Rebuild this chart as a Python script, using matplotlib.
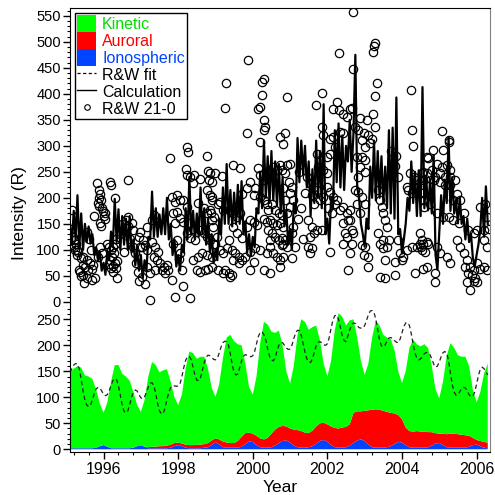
import numpy as np
import matplotlib.pyplot as plt
from matplotlib.patches import Patch
from matplotlib.lines import Line2D
from matplotlib.ticker import MultipleLocator, FormatStrFormatter

plt.rcParams['font.family'] = ['Liberation Sans', 'DejaVu Sans']

# Calculation, sampled every 0.05 yr from 1995.10 (one row per year)
calc_value = [
    150, 110, 175, 120, 205, 105, 170, 100, 150, 115, 145, 112, 130, 90, 105, 80, 95, 60, 75, 52,
    95, 80, 135, 110, 198, 115, 178, 100, 165, 110, 160, 100, 165, 95, 120, 70, 100, 60, 90, 45,
    80, 60, 125, 120, 212, 125, 180, 125, 168, 130, 180, 130, 200, 120, 150, 90, 120, 68, 90, 60,
    110, 95, 180, 120, 240, 130, 175, 120, 170, 125, 220, 130, 180, 110, 160, 95, 130, 75, 100, 80,
    160, 130, 220, 150, 265, 150, 215, 145, 210, 150, 225, 150, 232, 130, 155, 95, 130, 88, 125, 105,
    180, 170, 250, 180, 310, 200, 280, 190, 290, 195, 270, 185, 265, 170, 240, 145, 175, 110, 140, 100,
    190, 170, 315, 230, 310, 245, 300, 220, 270, 165, 255, 190, 310, 200, 290, 180, 380, 130, 160, 112,
    200, 180, 330, 230, 343, 220, 320, 215, 300, 270, 350, 250, 325, 475, 220, 200, 150, 130, 106, 160,
    140, 260, 200, 310, 195, 290, 200, 280, 190, 260, 180, 330, 170, 335, 160, 393, 130, 140, 93, 120,
    150, 200, 175, 270, 190, 250, 165, 253, 165, 413, 180, 240, 176, 230, 170, 282, 90, 62, 135, 205,
    150, 235, 190, 317, 175, 240, 170, 196, 151, 200, 150, 165, 120, 160, 115, 130, 85, 67, 90, 110,
    140, 200, 125, 222, 150,
]

# R&W fit, same sampling
fit_value = [
    148, 155, 162, 165, 164, 155, 135, 112, 95, 85, 82, 85, 95, 107, 116, 119, 118, 112, 106, 103,
    105, 112, 123, 132, 136, 134, 122, 103, 85, 73, 70, 74, 86, 100, 110, 114, 112, 105, 99, 97,
    101, 110, 120, 127, 128, 122, 107, 88, 74, 68, 69, 80, 96, 110, 119, 122, 122, 121, 122, 126,
    140, 157, 171, 178, 179, 172, 158, 142, 133, 132, 138, 152, 167, 177, 181, 180, 177, 173, 172, 175,
    185, 197, 205, 208, 207, 200, 183, 162, 148, 143, 145, 157, 170, 179, 182, 181, 179, 178, 180, 188,
    203, 217, 225, 226, 220, 210, 193, 179, 172, 170, 176, 189, 200, 205, 205, 200, 195, 192, 193, 200,
    213, 224, 229, 228, 219, 203, 187, 174, 168, 167, 174, 187, 199, 206, 207, 205, 201, 200, 203, 215,
    233, 249, 257, 258, 250, 234, 218, 209, 207, 218, 230, 240, 243, 242, 238, 234, 233, 233, 238, 248,
    259, 266, 267, 263, 250, 230, 210, 199, 197, 201, 209, 214, 215, 213, 209, 206, 205, 212, 224, 236,
    243, 244, 238, 222, 202, 185, 175, 172, 174, 179, 184, 186, 186, 182, 174, 164, 158, 160, 168, 178,
    186, 188, 185, 170, 146, 124, 110, 104, 105, 111, 117, 119, 118, 112, 105, 101, 102, 110, 125, 142,
    154, 158, 155, 149, 143,
]

# Components, sampled every 0.1 yr from 1995.1
ionospheric = [
    2, 2, 2, 2, 2, 2, 2, 3, 6, 8,
    5, 2, 2, 2, 2, 2, 2, 3, 6, 8,
    5, 2, 2, 2, 2, 2, 2, 3, 6, 8,
    6, 3, 2, 2, 2, 2, 3, 4, 8, 14,
    9, 4, 3, 3, 3, 3, 5, 10, 15, 14,
    8, 4, 3, 3, 4, 7, 12, 16, 17, 13,
    7, 4, 3, 3, 4, 6, 11, 16, 18, 15,
    8, 4, 3, 3, 4, 7, 12, 17, 19, 16,
    9, 4, 3, 3, 3, 4, 6, 10, 14, 13,
    8, 4, 3, 3, 3, 3, 4, 7, 11, 12,
    8, 4, 3, 3, 3, 3, 3, 5, 8, 9,
    6, 3, 2,
]
auroral = [
    0, 0, 0, 0, 0, 0, 0, 0, 0, 0,
    0, 0, 0, 0, 0, 0, 0, 0, 0, 0,
    0, 2, 3, 3, 4, 4, 5, 6, 6, 5,
    5, 6, 6, 6, 7, 7, 7, 8, 9, 7,
    10, 11, 10, 9, 9, 13, 19, 21, 17, 16,
    18, 17, 16, 19, 26, 31, 31, 29, 27, 27,
    31, 33, 32, 29, 27, 30, 33, 34, 33, 33,
    36, 37, 37, 39, 39, 41, 58, 56, 54, 58,
    66, 72, 74, 73, 71, 68, 64, 59, 52, 45,
    34, 31, 31, 32, 31, 31, 29, 26, 20, 18,
    22, 25, 27, 27, 26, 25, 24, 21, 14, 9,
    10, 11, 11,
]
kinetic = [
    146, 153, 158, 155, 140, 138, 133, 112, 82, 62,
    85, 128, 160, 160, 143, 138, 130, 107, 79, 64,
    90, 136, 163, 157, 142, 146, 147, 121, 88, 72,
    94, 146, 180, 177, 165, 169, 168, 143, 101, 80,
    106, 160, 202, 208, 196, 186, 176, 134, 88, 75,
    114, 184, 226, 218, 196, 186, 185, 155, 106, 86,
    122, 183, 215, 213, 199, 199, 194, 160, 114, 92,
    126, 189, 222, 213, 195, 200, 180, 142, 97, 69,
    90, 139, 170, 162, 146, 143, 142, 121, 84, 69,
    108, 160, 177, 167, 164, 168, 162, 127, 84, 68,
    100, 151, 174, 165, 152, 150, 151, 134, 93, 72,
    94, 131, 152,
]

# R&W 21-0 observations (year, intensity)
rw_1995 = [(1995.12, 140), (1995.14, 110), (1995.15, 176), (1995.17, 125), (1995.20, 106),
           (1995.22, 118), (1995.24, 99), (1995.26, 112), (1995.28, 100), (1995.28, 90),
           (1995.32, 95), (1995.33, 61), (1995.37, 58), (1995.40, 85), (1995.40, 50),
           (1995.44, 70), (1995.46, 87), (1995.46, 51), (1995.48, 37), (1995.50, 67),
           (1995.55, 80), (1995.55, 45), (1995.55, 135), (1995.59, 61), (1995.60, 120),
           (1995.64, 74), (1995.67, 100), (1995.68, 64), (1995.70, 42), (1995.73, 71),
           (1995.75, 165), (1995.77, 45), (1995.83, 228), (1995.85, 190), (1995.85, 87),
           (1995.87, 200), (1995.88, 216), (1995.88, 185), (1995.90, 208), (1995.90, 151),
           (1995.90, 106), (1995.92, 195), (1995.93, 145), (1995.95, 180), (1995.95, 93),
           (1995.98, 175)]
rw_1996 = [(1996.00, 165), (1996.03, 160), (1996.05, 170), (1996.10, 112), (1996.15, 106),
           (1996.15, 72), (1996.17, 230), (1996.17, 80), (1996.20, 224), (1996.20, 99),
           (1996.20, 66), (1996.22, 87), (1996.25, 106), (1996.25, 68), (1996.25, 57),
           (1996.27, 93), (1996.30, 112), (1996.30, 74), (1996.31, 199), (1996.33, 120),
           (1996.33, 66), (1996.35, 78), (1996.35, 45), (1996.45, 130), (1996.50, 150),
           (1996.55, 95), (1996.60, 157), (1996.66, 234), (1996.66, 163), (1996.66, 145),
           (1996.70, 120), (1996.75, 151), (1996.80, 139), (1996.80, 106), (1996.85, 93),
           (1996.88, 74), (1996.92, 57), (1996.95, 125), (1996.95, 40), (1996.98, 135),
           (1996.98, 106)]
rw_1997 = [(1997.02, 106), (1997.02, 48), (1997.07, 119), (1997.11, 109), (1997.11, 35),
           (1997.16, 100), (1997.16, 67), (1997.16, 144), (1997.25, 55), (1997.25, 3),
           (1997.29, 115), (1997.29, 157), (1997.34, 87), (1997.34, 167), (1997.38, 106),
           (1997.38, 61), (1997.43, 80), (1997.47, 96), (1997.52, 74), (1997.56, 61),
           (1997.61, 67), (1997.65, 55), (1997.69, 71), (1997.74, 61), (1997.77, 276),
           (1997.83, 202), (1997.83, 42), (1997.87, 170), (1997.87, 112), (1997.92, 192),
           (1997.92, 151), (1997.92, 10), (1997.96, 205), (1997.96, 173), (1997.96, 119)]
rw_1998 = [(1998.01, 83), (1998.05, 196), (1998.05, 161), (1998.05, 93), (1998.10, 61),
           (1998.14, 196), (1998.14, 154), (1998.14, 30), (1998.20, 256), (1998.23, 298),
           (1998.23, 183), (1998.23, 132), (1998.25, 244), (1998.26, 288), (1998.32, 240),
           (1998.32, 151), (1998.32, 122), (1998.32, 7), (1998.41, 229), (1998.41, 141),
           (1998.41, 80), (1998.43, 243), (1998.45, 119), (1998.50, 61), (1998.54, 190),
           (1998.54, 87), (1998.59, 237), (1998.59, 138), (1998.59, 58), (1998.63, 93),
           (1998.68, 180), (1998.68, 132), (1998.72, 61), (1998.77, 215), (1998.77, 170),
           (1998.77, 125), (1998.77, 90), (1998.78, 280), (1998.80, 252), (1998.81, 64),
           (1998.82, 234), (1998.86, 248), (1998.86, 176), (1998.86, 119), (1998.86, 205),
           (1998.88, 170), (1998.90, 231), (1998.90, 202), (1998.91, 196), (1998.90, 157),
           (1998.90, 87), (1998.90, 67), (1998.94, 144), (1998.95, 164), (1998.95, 112),
           (1998.99, 112)]
rw_1999 = [(1999.00, 247), (1999.03, 125), (1999.08, 189), (1999.08, 61), (1999.12, 192),
           (1999.12, 100), (1999.17, 242), (1999.21, 176), (1999.21, 93), (1999.21, 55),
           (1999.26, 372), (1999.26, 61), (1999.28, 421), (1999.30, 103), (1999.35, 119),
           (1999.35, 55), (1999.39, 176), (1999.39, 48), (1999.44, 100), (1999.44, 51),
           (1999.48, 263), (1999.48, 170), (1999.48, 144), (1999.48, 80), (1999.53, 93),
           (1999.57, 163), (1999.57, 132), (1999.62, 87), (1999.62, 74), (1999.66, 258),
           (1999.66, 170), (1999.70, 208), (1999.70, 122), (1999.70, 80), (1999.79, 87),
           (1999.84, 324), (1999.84, 218), (1999.84, 144), (1999.88, 466), (1999.93, 231),
           (1999.93, 157), (1999.93, 96), (1999.93, 61)]
rw_2000 = [(2000.02, 205), (2000.02, 154), (2000.02, 77), (2000.06, 218), (2000.06, 103),
           (2000.11, 147), (2000.15, 370), (2000.15, 257), (2000.20, 375), (2000.20, 308),
           (2000.20, 244), (2000.20, 202), (2000.20, 100), (2000.24, 423), (2000.24, 398),
           (2000.29, 428), (2000.29, 349), (2000.29, 331), (2000.29, 234), (2000.29, 196),
           (2000.29, 160), (2000.29, 61), (2000.33, 336), (2000.37, 240), (2000.37, 189),
           (2000.37, 154), (2000.37, 93), (2000.42, 176), (2000.42, 138), (2000.46, 157),
           (2000.46, 119), (2000.46, 106), (2000.46, 55), (2000.51, 247), (2000.51, 189),
           (2000.51, 132), (2000.55, 260), (2000.55, 151), (2000.55, 93), (2000.60, 176),
           (2000.60, 125), (2000.64, 253), (2000.64, 147), (2000.64, 87), (2000.69, 170),
           (2000.69, 119), (2000.73, 317), (2000.73, 263), (2000.73, 151), (2000.73, 80),
           (2000.73, 67), (2000.78, 167), (2000.78, 122), (2000.78, 253), (2000.78, 109),
           (2000.80, 303), (2000.82, 144), (2000.82, 112), (2000.82, 87), (2000.82, 218),
           (2000.87, 324), (2000.87, 247), (2000.87, 196), (2000.87, 119), (2000.91, 263),
           (2000.91, 170), (2000.91, 106), (2000.93, 394), (2000.96, 231)]
rw_2001 = [(2001.00, 266), (2001.00, 209), (2001.00, 183), (2001.05, 221), (2001.05, 132),
           (2001.05, 84), (2001.09, 196), (2001.09, 144), (2001.13, 106), (2001.20, 160),
           (2001.25, 250), (2001.30, 180), (2001.35, 120), (2001.40, 210), (2001.45, 240),
           (2001.49, 157), (2001.49, 106), (2001.54, 228), (2001.54, 125), (2001.54, 93),
           (2001.58, 205), (2001.58, 144), (2001.58, 103), (2001.63, 221), (2001.63, 189),
           (2001.63, 132), (2001.70, 378), (2001.72, 285), (2001.72, 215), (2001.72, 138),
           (2001.76, 260), (2001.80, 273), (2001.80, 196), (2001.85, 402), (2001.85, 336),
           (2001.85, 138), (2001.89, 320), (2001.89, 253), (2001.89, 202), (2001.98, 279),
           (2001.98, 247), (2001.98, 221)]
rw_2002 = [(2002.03, 180), (2002.07, 314), (2002.07, 285), (2002.07, 212), (2002.07, 96),
           (2002.12, 170), (2002.16, 370), (2002.16, 317), (2002.16, 202), (2002.21, 298),
           (2002.21, 189), (2002.25, 196), (2002.27, 385), (2002.30, 369), (2002.32, 479),
           (2002.34, 327), (2002.34, 177), (2002.43, 361), (2002.43, 324), (2002.43, 183),
           (2002.43, 151), (2002.43, 112), (2002.48, 132), (2002.52, 355), (2002.52, 170),
           (2002.52, 125), (2002.56, 157), (2002.56, 61), (2002.61, 370), (2002.61, 177),
           (2002.61, 157), (2002.61, 93), (2002.65, 372), (2002.65, 138), (2002.65, 112),
           (2002.70, 558), (2002.70, 447), (2002.70, 132), (2002.74, 336), (2002.74, 215),
           (2002.79, 279), (2002.79, 189), (2002.83, 330), (2002.83, 241), (2002.83, 212),
           (2002.88, 353), (2002.88, 260), (2002.88, 170), (2002.92, 311), (2002.92, 279),
           (2002.92, 202), (2002.92, 109), (2002.97, 324), (2002.97, 90)]
rw_2003 = [(2003.01, 298), (2003.01, 273), (2003.01, 250), (2003.01, 189), (2003.01, 106),
           (2003.06, 349), (2003.10, 320), (2003.10, 87), (2003.10, 67), (2003.15, 305),
           (2003.19, 314), (2003.22, 481), (2003.23, 362), (2003.25, 492), (2003.28, 497),
           (2003.28, 395), (2003.28, 336), (2003.32, 420), (2003.37, 215), (2003.37, 132),
           (2003.41, 196), (2003.41, 112), (2003.41, 48), (2003.46, 183), (2003.50, 170),
           (2003.50, 119), (2003.50, 103), (2003.55, 157), (2003.55, 80), (2003.55, 45),
           (2003.59, 144), (2003.59, 106), (2003.64, 119), (2003.70, 290), (2003.75, 250),
           (2003.80, 262), (2003.82, 77), (2003.82, 51), (2003.85, 280), (2003.90, 240),
           (2003.90, 119), (2003.95, 93), (2003.99, 80)]
rw_2004 = [(2004.04, 87), (2004.13, 221), (2004.13, 99), (2004.17, 215), (2004.22, 247),
           (2004.24, 408), (2004.26, 330), (2004.26, 209), (2004.26, 106), (2004.29, 300),
           (2004.31, 241), (2004.35, 55), (2004.40, 234), (2004.40, 221), (2004.40, 106),
           (2004.49, 132), (2004.49, 112), (2004.51, 106), (2004.53, 247), (2004.53, 209),
           (2004.53, 119), (2004.53, 99), (2004.57, 250), (2004.57, 234), (2004.57, 196),
           (2004.57, 112), (2004.57, 64), (2004.58, 183), (2004.62, 237), (2004.62, 96),
           (2004.66, 115), (2004.66, 67), (2004.67, 279), (2004.67, 247), (2004.69, 112),
           (2004.71, 276), (2004.76, 189), (2004.80, 253), (2004.83, 292), (2004.89, 241),
           (2004.87, 234), (2004.89, 55), (2004.89, 38), (2004.93, 266), (2004.93, 170),
           (2004.93, 106)]
rw_2005 = [(2005.02, 247), (2005.02, 231), (2005.02, 93), (2005.07, 329), (2005.07, 260),
           (2005.10, 292), (2005.11, 164), (2005.16, 241), (2005.16, 224), (2005.20, 263),
           (2005.20, 87), (2005.25, 311), (2005.25, 164), (2005.27, 308), (2005.29, 253),
           (2005.29, 241), (2005.29, 224), (2005.29, 74), (2005.38, 196), (2005.38, 157),
           (2005.43, 234), (2005.47, 208), (2005.47, 119), (2005.52, 151), (2005.56, 196),
           (2005.56, 106), (2005.65, 170), (2005.65, 93), (2005.69, 67), (2005.74, 80),
           (2005.74, 38), (2005.78, 138), (2005.78, 55), (2005.83, 67), (2005.83, 22),
           (2005.87, 51), (2005.92, 132), (2005.92, 61), (2005.92, 40), (2005.96, 45)]
rw_2006 = [(2006.00, 38), (2006.01, 138), (2006.01, 74), (2006.10, 183), (2006.10, 64),
           (2006.19, 138), (2006.19, 119), (2006.19, 67), (2006.23, 189), (2006.28, 164),
           (2006.28, 61), (2006.29, 106), (2006.32, 141)]

GREEN = '#00ff00'
RED = '#ff0000'
BLUE = '#0044ff'


def main():
    calc_year = 1995.10 + 0.05 * np.arange(len(calc_value))
    fit_year = 1995.10 + 0.05 * np.arange(len(fit_value))
    comp_year = 1995.1 + 0.1 * np.arange(len(kinetic))

    rw = np.array(rw_1995 + rw_1996 + rw_1997 + rw_1998 + rw_1999 + rw_2000 +
                  rw_2001 + rw_2002 + rw_2003 + rw_2004 + rw_2005 + rw_2006)

    fig = plt.figure(figsize=(4.95, 4.95), dpi=100)
    ax1 = fig.add_axes([0.1414, 0.3818, 0.8485, 0.6020])
    ax2 = fig.add_axes([0.1414, 0.0869, 0.8485, 0.2949], sharex=ax1)

    # Top panel: calculation vs observations
    ax1.plot(calc_year, calc_value, color='black', lw=1.6)
    ax1.plot(rw[:, 0], rw[:, 1], 'o', ms=6, mfc='none', mec='black', mew=0.9)
    ax1.set_ylim(-8, 565)

    # Bottom panel: components
    ax2.stackplot(comp_year, ionospheric, auroral, kinetic,
                  colors=[BLUE, RED, GREEN], lw=0)
    ax2.plot(fit_year, fit_value, color='#222222', lw=0.9, dashes=(3.5, 2.5))
    ax2.set_ylim(-5.2, 275.6)
    ax2.set_xlim(1995.10, 2006.36)

    for ax in (ax1, ax2):
        ax.yaxis.set_major_locator(MultipleLocator(50))
        ax.yaxis.set_minor_locator(MultipleLocator(10))
        ax.tick_params(axis='y', which='major', direction='out', length=5,
                       width=1, labelsize=10.5, pad=1.5, right=False)
        ax.tick_params(axis='y', which='minor', direction='out', length=2.5,
                       width=0.8, right=False)
        ax.spines['right'].set_color('#808080')

    ax1.spines['bottom'].set_visible(False)
    ax1.tick_params(axis='x', which='both', bottom=False, top=False,
                    labelbottom=False)
    ax2.spines['top'].set_visible(False)

    ax2.xaxis.set_major_locator(MultipleLocator(2))
    ax2.xaxis.set_minor_locator(MultipleLocator(0.4))
    ax2.xaxis.set_major_formatter(FormatStrFormatter('%d'))
    ax2.tick_params(axis='x', which='major', direction='out', length=5,
                    width=1, labelsize=11.5, pad=2, top=False)
    ax2.tick_params(axis='x', which='minor', direction='out', length=2.5,
                    width=0.8, top=False)

    handles = [
        Patch(facecolor=GREEN, edgecolor='none'),
        Patch(facecolor=RED, edgecolor='none'),
        Patch(facecolor=BLUE, edgecolor='none'),
        Line2D([], [], color='black', lw=0.9, dashes=(2.5, 2)),
        Line2D([], [], color='black', lw=1.0),
        Line2D([], [], ls='none', marker='o', ms=4, mfc='none', mec='black', mew=0.8),
    ]
    labels = ['Kinetic', 'Auroral', 'Ionospheric', 'R&W fit', 'Calculation', 'R&W 21-0']
    leg = ax1.legend(handles, labels, loc='upper left', bbox_to_anchor=(0.012, 0.983),
                     borderaxespad=0, fontsize=11.5, handlelength=1.15,
                     handleheight=1.25, handletextpad=0.4, borderpad=0.15,
                     labelspacing=0.0, fancybox=False, framealpha=1)
    leg.get_frame().set_edgecolor('black')
    leg.get_frame().set_linewidth(1.0)
    for text, col in zip(leg.get_texts(), ['#00dd00', RED, BLUE, 'black', 'black', 'black']):
        text.set_color(col)

    fig.text(0.0404, 1 - 213 / 495, 'Intensity (R)', rotation=90,
             ha='center', va='center', fontsize=12.5)
    fig.text(0.5657, 1 - 487 / 495, 'Year', ha='center', va='center', fontsize=12.5)

    fig.savefig('out.png', dpi=100)


if __name__ == '__main__':
    main()
